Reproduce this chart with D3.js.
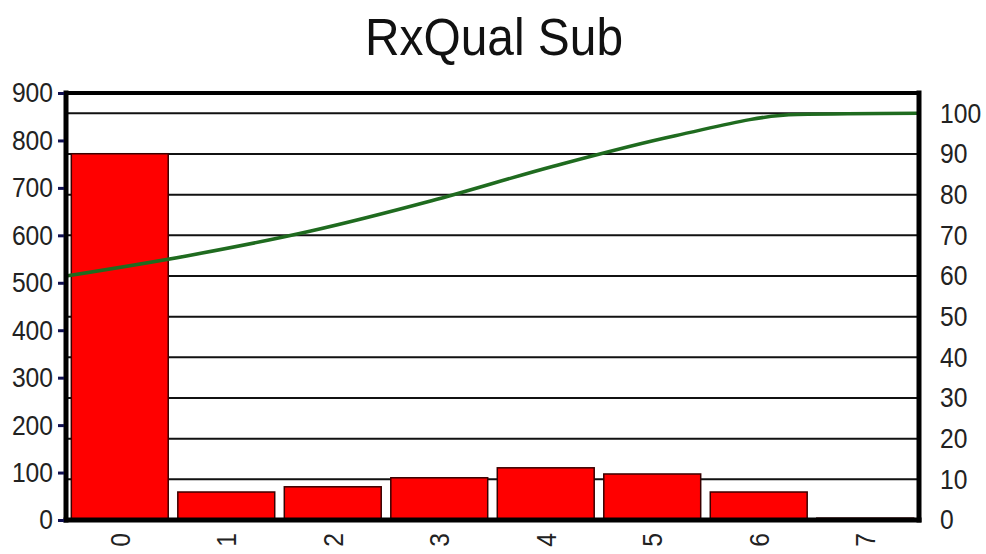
<!DOCTYPE html>
<html>
<head>
<meta charset="utf-8">
<script src="https://cdn.jsdelivr.net/npm/d3@7"></script>
<style>
  html, body { margin: 0; padding: 0; background: #fff; }
  svg { display: block; }
  .tick-label { font-family: "Liberation Sans", Arial, sans-serif; font-size: 28px; fill: #222; }
</style>
</head>
<body>
<svg id="chart" width="986" height="554"></svg>
<script>
// RxQual sub-band histogram with cumulative percentage
const categories = ["0", "1", "2", "3", "4", "5", "6", "7"];
const counts = [772, 59, 70, 89, 110, 97, 59, 4];
const cumulativePct = [60, 65, 71, 78.5, 87, 94.5, 99.7, 100];
const leftTicks = [0, 100, 200, 300, 400, 500, 600, 700, 800, 900];
const rightTicks = [0, 10, 20, 30, 40, 50, 60, 70, 80, 90, 100];

const svg = d3.select("#chart");
const plot = { left: 66, right: 919, top: 93, bottom: 520 };
const digitWidth = 13.7;   // condensed digit advance

const x = d3.scaleBand().domain(categories)
  .range([plot.left, plot.right]).paddingInner(0.09).paddingOuter(0.05);
const xLine = d3.scalePoint().domain(categories).range([plot.left, plot.right]);
const yLeft = d3.scaleLinear().domain([0, 900]).range([plot.bottom, plot.top]);
const yRight = d3.scaleLinear().domain([0, 105]).range([plot.bottom, plot.top]);

// title
svg.append("text")
  .attr("x", 494).attr("y", 55)
  .attr("text-anchor", "middle")
  .attr("font-family", "Liberation Sans, Arial, sans-serif")
  .attr("font-size", 51)
  .attr("textLength", 258).attr("lengthAdjust", "spacingAndGlyphs")
  .attr("fill", "#111")
  .text("RxQual Sub");

// horizontal gridlines on the percentage scale
svg.append("g").selectAll("line")
  .data(rightTicks.filter(d => d > 0))
  .join("line")
  .attr("x1", plot.left).attr("x2", plot.right)
  .attr("y1", d => yRight(d)).attr("y2", d => yRight(d))
  .attr("stroke", "#111").attr("stroke-width", 2);

// bars
svg.append("g").selectAll("rect")
  .data(categories.map((c, i) => ({ c, v: counts[i] })))
  .join("rect")
  .attr("x", d => x(d.c))
  .attr("width", x.bandwidth())
  .attr("y", d => yLeft(d.v))
  .attr("height", d => yLeft(0) - yLeft(d.v))
  .attr("fill", "#ff0000")
  .attr("stroke", "#3a0000").attr("stroke-width", 1.5);

// cumulative line
svg.append("path")
  .datum(categories.map((c, i) => ({ c, p: cumulativePct[i] })))
  .attr("fill", "none")
  .attr("stroke", "#1f6b1f").attr("stroke-width", 3.5)
  .attr("d", d3.line().x(d => xLine(d.c)).y(d => yRight(d.p)).curve(d3.curveMonotoneX));

// frame
const frame = svg.append("g").attr("stroke", "#000").attr("stroke-linecap", "square");
frame.append("line").attr("x1", plot.left).attr("x2", plot.right)
  .attr("y1", plot.top).attr("y2", plot.top).attr("stroke-width", 4);
frame.append("line").attr("x1", plot.left).attr("x2", plot.right)
  .attr("y1", plot.bottom).attr("y2", plot.bottom).attr("stroke-width", 5);
frame.append("line").attr("x1", plot.left).attr("x2", plot.left)
  .attr("y1", plot.top).attr("y2", plot.bottom).attr("stroke-width", 5);
frame.append("line").attr("x1", plot.right).attr("x2", plot.right)
  .attr("y1", plot.top).attr("y2", plot.bottom).attr("stroke-width", 5);

function styleLabels(sel) {
  sel.attr("class", "tick-label").attr("font-size", null).attr("font-family", null).attr("fill", null)
    .attr("textLength", d => String(d).length * digitWidth)
    .attr("lengthAdjust", "spacingAndGlyphs");
}

// left axis
const leftAxis = svg.append("g")
  .attr("transform", `translate(${plot.left - 2},0)`)
  .call(d3.axisLeft(yLeft).tickValues(leftTicks).tickSize(6).tickPadding(5).tickFormat(d3.format("d")));
leftAxis.select(".domain").remove();
leftAxis.selectAll(".tick line").attr("stroke", "#101050").attr("stroke-width", 3);
leftAxis.selectAll(".tick text").call(styleLabels);

// right axis
const rightAxis = svg.append("g")
  .attr("transform", `translate(${plot.right + 2},0)`)
  .call(d3.axisRight(yRight).tickValues(rightTicks).tickSize(0).tickPadding(19).tickFormat(d3.format("d")));
rightAxis.select(".domain").remove();
rightAxis.selectAll(".tick text").call(styleLabels);

// category axis, labels rotated to read upward
const bottomAxis = svg.append("g")
  .attr("transform", `translate(0,${plot.bottom + 2})`)
  .call(d3.axisBottom(x).tickSize(0).tickPadding(0));
bottomAxis.select(".domain").remove();
bottomAxis.selectAll(".tick text")
  .call(styleLabels)
  .attr("transform", "rotate(-90)")
  .attr("x", -18).attr("y", 0).attr("dy", "0.35em")
  .attr("text-anchor", "middle");
</script>
</body>
</html>
